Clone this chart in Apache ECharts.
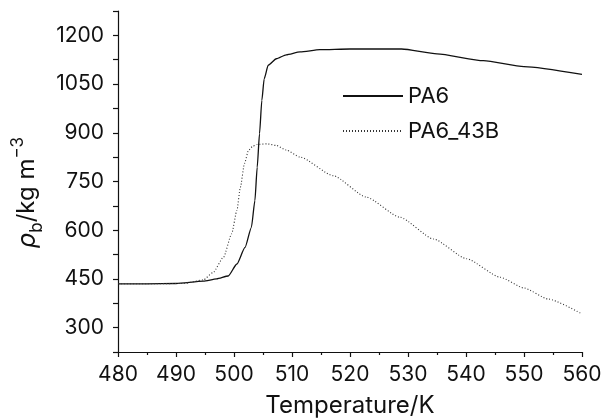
<!DOCTYPE html>
<html>
<head>
<meta charset="utf-8">
<script src="https://cdn.jsdelivr.net/npm/echarts@6/dist/echarts.min.js"></script>
<style>html,body{margin:0;padding:0;background:#fff}#c{width:603px;height:420px}</style>
</head>
<body>
<div id="c"></div>
<script>
var FONT = 'Inter, "Liberation Sans", Arial, sans-serif';
var seriesNames = ['PA6', 'PA6_43B'];
var pa6T = [480, 485, 490, 494.7, 497, 499, 500.5, 501.9, 503.0, 503.6, 504.0, 504.4, 504.8, 505.2, 505.9, 507.3, 509, 511.4, 514.8, 520, 528.9, 535, 543, 550, 560];
var pa6V = [435, 435, 436, 443, 450, 459, 496, 547, 609, 691, 794, 897, 1000, 1066, 1108, 1128, 1140, 1149, 1156, 1158, 1158, 1143, 1122, 1104, 1080];
var pa643bT = [480, 485, 491.3, 494.7, 496.4, 498.2, 499.6, 500.5, 501.1, 501.8, 502.5, 503.2, 504.0, 505.7, 507.3, 509, 511.4, 517.1, 522.8, 528.6, 534.4, 540.1, 545.9, 550, 554.2, 560];
var pa643bV = [435, 435, 436, 447, 470, 517, 589, 661, 732, 805, 846, 858, 864, 866, 861, 847, 825, 768, 702, 640, 573, 512, 455, 422, 388, 342];
var yLabelValues = [300, 450, 600, 750, 900, 1050, 1200];
var xLabelValues = [480, 490, 500, 510, 520, 530, 540, 550, 560];

function pairs(xs, ys) { return xs.map(function (x, i) { return [x, ys[i]]; }); }

var chart = echarts.init(document.getElementById('c'));
chart.setOption({
  animation: false,
  backgroundColor: '#fff',
  grid: { left: 118, right: 21, top: 11, bottom: 68, containLabel: false, outerBoundsMode: 'none' },
  legend: {
    orient: 'vertical',
    left: 342, top: 85,
    padding: 0,
    itemWidth: 60, itemHeight: 14, itemGap: 13,
    data: seriesNames,
    itemStyle: { opacity: 0 },
    textStyle: { fontFamily: FONT, fontSize: 22, color: '#111' }
  },
  xAxis: {
    type: 'value', min: 480, max: 560, interval: 10,
    name: 'Temperature/K', nameLocation: 'middle', nameGap: 42,
    nameTextStyle: { fontFamily: FONT, fontSize: 24, color: '#111' },
    axisLine: { show: true, onZero: false, lineStyle: { color: '#111', width: 1.2 } },
    axisTick: { show: true, length: 5, lineStyle: { color: '#111', width: 1.2 } },
    minorTick: { show: true, splitNumber: 2, length: 3, lineStyle: { color: '#111', width: 1.2 } },
    splitLine: { show: false },
    axisLabel: { fontFamily: FONT, fontSize: 21, color: '#111', margin: 12,
      formatter: function (v) { return xLabelValues.indexOf(v) >= 0 ? String(v) : ''; } }
  },
  yAxis: {
    type: 'value', min: 225, max: 1275, interval: 75,
    name: '{r|ρ}{s|b}{n|/kg m}{p|−3}', nameLocation: 'middle', nameGap: 64, nameRotate: 90,
    nameTextStyle: {
      fontFamily: FONT, fontSize: 24, color: '#111', padding: [0, 22, 0, 0],
      rich: {
        r: { fontFamily: FONT, fontSize: 25, fontStyle: 'italic', color: '#111', lineHeight: 36, verticalAlign: 'middle' },
        s: { fontFamily: FONT, fontSize: 17, color: '#111', lineHeight: 36, verticalAlign: 'bottom' },
        n: { fontFamily: FONT, fontSize: 24, color: '#111', lineHeight: 36, verticalAlign: 'middle' },
        p: { fontFamily: FONT, fontSize: 17, color: '#111', lineHeight: 36, verticalAlign: 'top' }
      }
    },
    axisLine: { show: true, onZero: false, lineStyle: { color: '#111', width: 1.2 } },
    axisTick: { show: true, length: 5, lineStyle: { color: '#111', width: 1.2 } },
    splitLine: { show: false },
    axisLabel: { fontFamily: FONT, fontSize: 21, color: '#111', margin: 14,
      formatter: function (v) { return yLabelValues.indexOf(v) >= 0 ? String(v) : ''; } }
  },
  series: [
    { name: seriesNames[0], type: 'line', data: pairs(pa6T, pa6V), showSymbol: false, symbol: 'none',
      smooth: 0.2, smoothMonotone: 'x',
      lineStyle: { color: '#111', width: 1.3, type: 'solid' }, itemStyle: { color: '#111' } },
    { name: seriesNames[1], type: 'line', data: pairs(pa643bT, pa643bV), showSymbol: false, symbol: 'none',
      smooth: 0.2, smoothMonotone: 'x',
      lineStyle: { color: '#333', width: 1.1, type: [1, 2] }, itemStyle: { color: '#333' } }
  ]
});
</script>
</body>
</html>
